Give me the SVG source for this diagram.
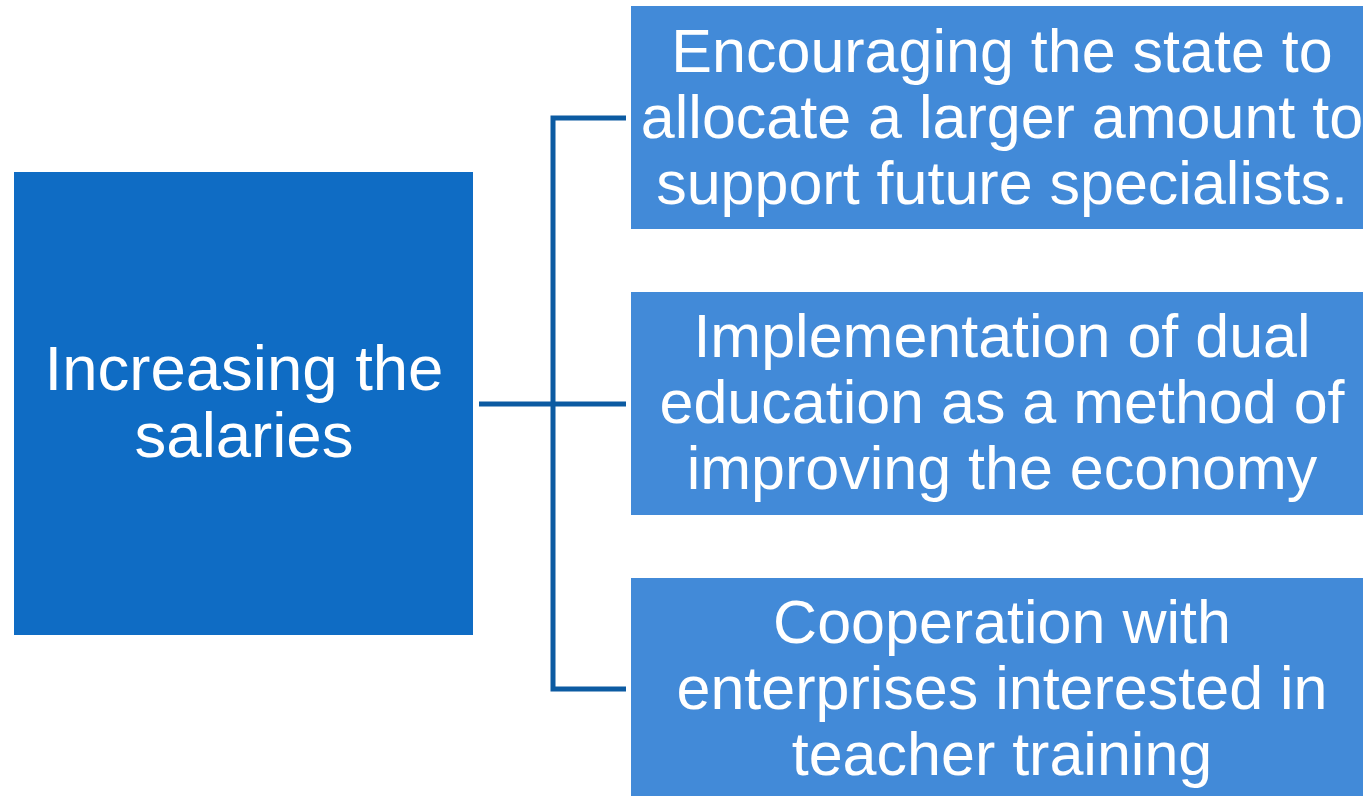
<svg xmlns="http://www.w3.org/2000/svg" width="1363" height="796" viewBox="0 0 1363 796">
<style>
.t{font-family:"Liberation Sans",Arial,sans-serif;fill:#fff;text-anchor:middle}
.r{font-size:61px}
.l{font-size:63.5px}
.main{fill:#0F6CC4}
.sub{fill:#428AD8}
.c{stroke:#0C5BA2;stroke-width:5;fill:none}
</style>
<rect width="1363" height="796" fill="#fff"/>
<g id="connectors">
<path class="c" d="M626,118 H553 V689 H626"/>
<path class="c" d="M479,404 H626"/>
</g>
<g id="node-main">
<rect class="main" x="14" y="172" width="459" height="463"/>
<text class="t l" x="244" y="390">Increasing the</text>
<text class="t l" x="244" y="457">salaries</text>
</g>
<g id="node-1">
<rect class="sub" x="631" y="6" width="744" height="223"/>
<text class="t r" x="1002" y="72">Encouraging the state to</text>
<text class="t r" x="1002" y="138">allocate a larger amount to</text>
<text class="t r" x="1002" y="204">support future specialists.</text>
</g>
<g id="node-2">
<rect class="sub" x="631" y="292" width="744" height="223"/>
<text class="t r" x="1002" y="357">Implementation of dual</text>
<text class="t r" x="1002" y="423">education as a method of</text>
<text class="t r" x="1002" y="489">improving the economy</text>
</g>
<g id="node-3">
<rect class="sub" x="631" y="578" width="744" height="223"/>
<text class="t r" x="1002" y="643">Cooperation with</text>
<text class="t r" x="1002" y="709">enterprises interested in</text>
<text class="t r" x="1002" y="775">teacher training</text>
</g>
</svg>
